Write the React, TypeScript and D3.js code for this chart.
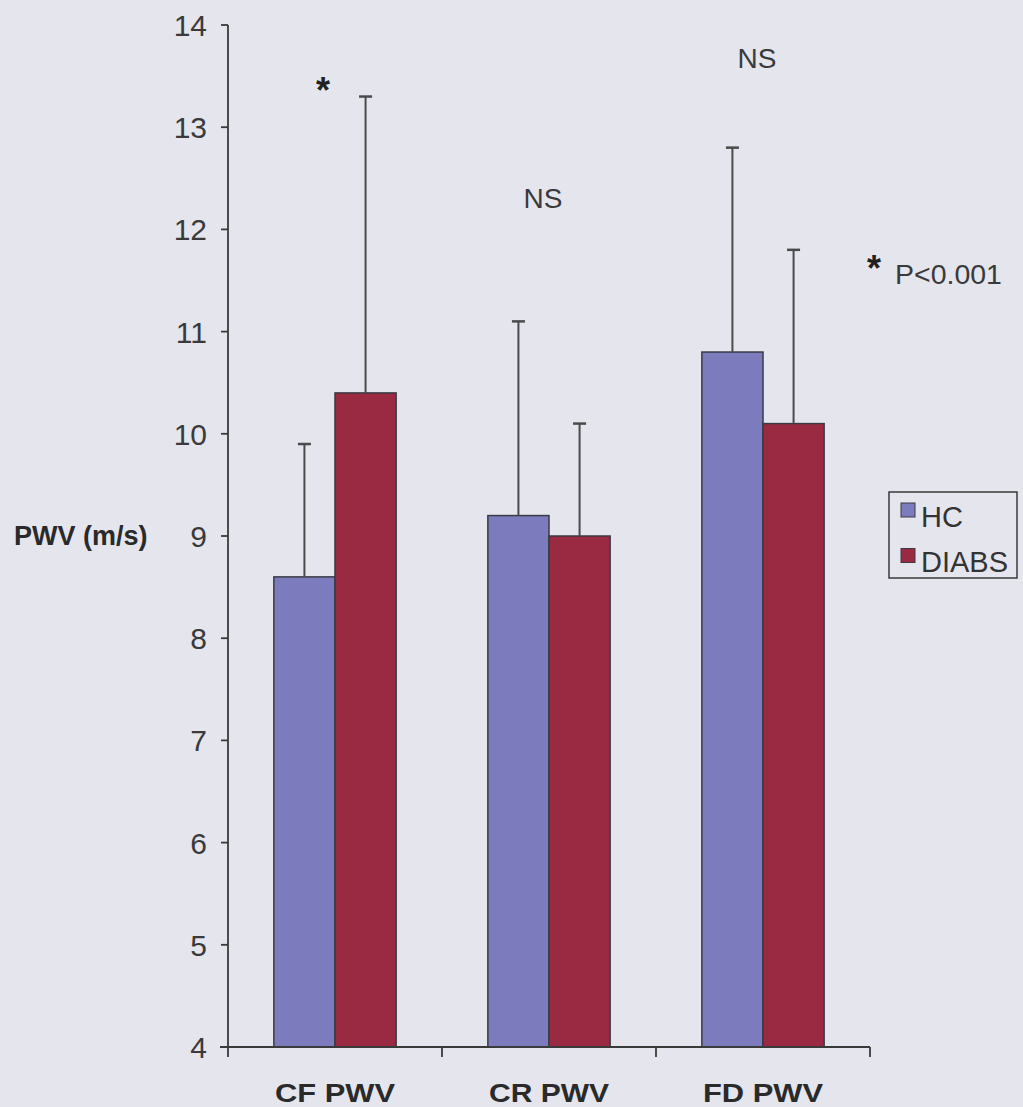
import React from "react";
import * as d3 from "d3";

const categories = ["CF PWV", "CR PWV", "FD PWV"];
const seriesNames = ["HC", "DIABS"];
const hcValues = [8.6, 9.2, 10.8];
const diabsValues = [10.4, 9.0, 10.1];
const hcErrTop = [9.9, 11.1, 12.8];
const diabsErrTop = [13.3, 10.1, 11.8];
const yTicks = [4, 5, 6, 7, 8, 9, 10, 11, 12, 13, 14];
const annotations = [
  { cat: "CF PWV", text: "*", value: 13.24 },
  { cat: "CR PWV", text: "NS", value: 12.21 },
  { cat: "FD PWV", text: "NS", value: 13.58 },
];

const colors: Record<string, string> = { HC: "#7b7bbe", DIABS: "#9a2a42" };
const FONT = "'Liberation Sans', Arial, sans-serif";

export default function App() {
  const W = 1023, H = 1107;
  const x0 = 228, x1 = 870;
  const y = d3.scaleLinear().domain([4, 14]).range([1047, 25]);
  const xCat = d3.scaleBand().domain(categories).range([x0, x1]).paddingInner(0).paddingOuter(0);
  const bw = xCat.bandwidth();
  const barW = bw / 3.5;
  const xSeries = d3.scaleBand().domain(seriesNames).range([0, barW * 2]);
  const groupOffset = (bw - barW * 2) / 2;

  const series = [
    { name: "HC", vals: hcValues, err: hcErrTop },
    { name: "DIABS", vals: diabsValues, err: diabsErrTop },
  ];

  return (
    <svg width={W} height={H} style={{ display: "block", position: "absolute", left: 0, top: 0 }}>
      <rect x={0} y={0} width={W} height={H} fill="#e5e5ee" />
      {series.map((s) =>
        categories.map((c, i) => {
          const bx = (xCat(c) as number) + groupOffset + (xSeries(s.name) as number);
          return (
            <rect key={s.name + c} x={bx} y={y(s.vals[i])} width={barW} height={y(4) - y(s.vals[i])}
              fill={colors[s.name]} stroke="#3a3a44" strokeWidth={1.5} />
          );
        })
      )}
      {series.map((s) =>
        categories.map((c, i) => {
          const cx = (xCat(c) as number) + groupOffset + (xSeries(s.name) as number) + barW / 2;
          return (
            <g key={"e" + s.name + c} stroke="#4a4a4a" strokeWidth={2}>
              <line x1={cx} x2={cx} y1={y(s.vals[i])} y2={y(s.err[i])} />
              <line x1={cx - 6.5} x2={cx + 6.5} y1={y(s.err[i])} y2={y(s.err[i])} strokeWidth={2.5} />
            </g>
          );
        })
      )}
      <g stroke="#3a3a3a" strokeWidth={1.8}>
        <line x1={x0} x2={x0} y1={y(14)} y2={y(4) + 10} />
        <line x1={x0 - 8} x2={x1} y1={y(4)} y2={y(4)} />
        {yTicks.map((t) => (
          <line key={"yt" + t} x1={x0 - 7} x2={x0} y1={y(t)} y2={y(t)} />
        ))}
        {categories.map((c) => (
          <line key={"xt" + c} x1={(xCat(c) as number) + bw} x2={(xCat(c) as number) + bw} y1={y(4)} y2={y(4) + 10} />
        ))}
      </g>
      {yTicks.map((t) => (
        <text key={"yl" + t} x={207} y={y(t) + 11} textAnchor="end" fontFamily={FONT} fontSize={30} fill="#3a3a3a">
          {t}
        </text>
      ))}
      {categories.map((c) => (
        <text key={"xl" + c} x={(xCat(c) as number) + bw / 2} y={1102} textAnchor="middle" fontFamily={FONT}
          fontSize={26} fontWeight="bold" fill="#2a2a2a" textLength={120} lengthAdjust="spacingAndGlyphs">
          {c}
        </text>
      ))}
      <text x={14} y={545} fontFamily={FONT} fontSize={27} fontWeight="bold" fill="#2a2a2a">PWV (m/s)</text>
      {annotations.map((a) => {
        const base = (xCat(a.cat) as number) + groupOffset;
        const isStar = a.text === "*";
        const ax = isStar ? base + barW - 12 : base + barW - 6;
        return (
          <text key={a.cat} x={ax} y={y(a.value)} textAnchor="middle" fontFamily={FONT}
            fontSize={isStar ? 36 : 28} fontWeight={isStar ? "bold" : "normal"} fill={isStar ? "#222" : "#3a3a3a"}>
            {a.text}
          </text>
        );
      })}
      <text x={867} y={281} fontFamily={FONT} fontSize={36} fontWeight="bold" fill="#222">*</text>
      <text x={895} y={284} fontFamily={FONT} fontSize={28.5} fill="#3a3a3a">P&lt;0.001</text>
      <rect x={889} y={492} width={128} height={86} fill="none" stroke="#3a3a3a" strokeWidth={1.5} />
      {seriesNames.map((n, i) => (
        <g key={"lg" + n}>
          <rect x={901} y={503 + i * 45.5} width={14} height={14} fill={colors[n]} stroke="#3a3a44" strokeWidth={1} />
          <text x={921} y={527 + i * 45} fontFamily={FONT} fontSize={29} fill="#333">{n}</text>
        </g>
      ))}
    </svg>
  );
}
